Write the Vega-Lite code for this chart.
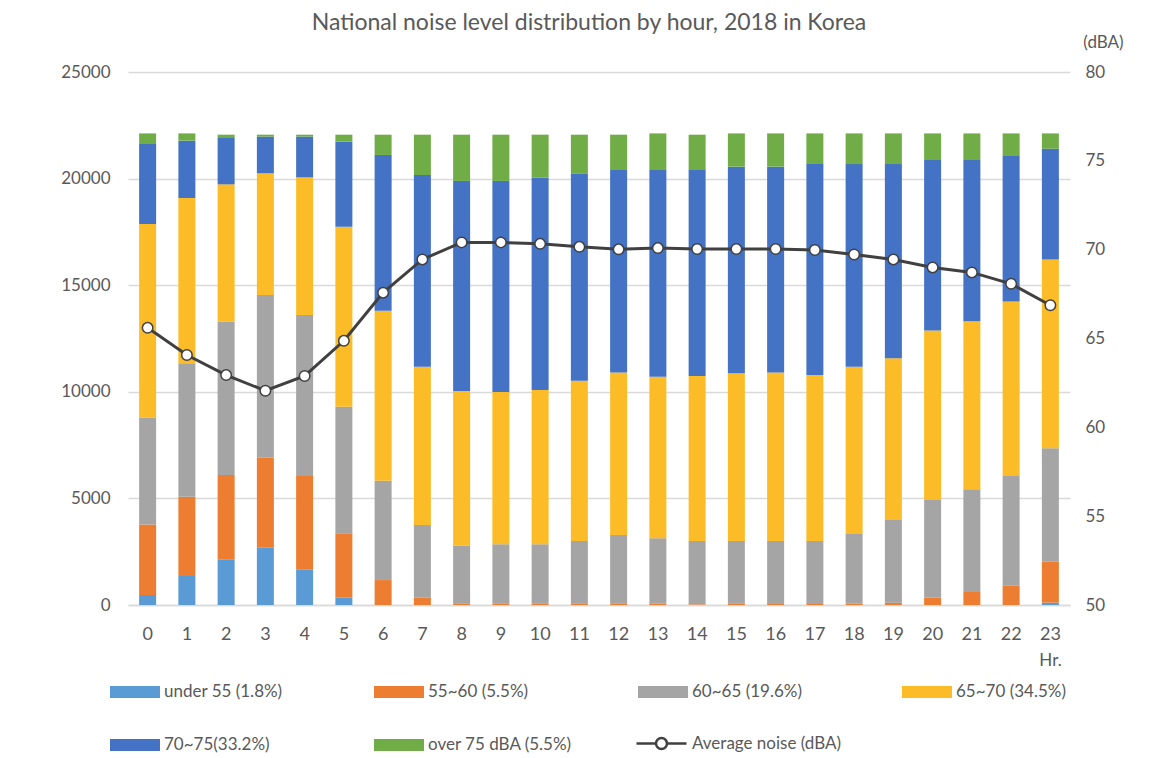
{
  "$schema": "https://vega.github.io/schema/vega-lite/v6.json",
  "width": 942,
  "height": 533,
  "autosize": {"type": "none"},
  "padding": {"left": 128, "top": 72, "right": 94, "bottom": 153},
  "background": "white",
  "config": {
    "font": "Lato",
    "view": {"stroke": null},
    "axis": {"labelColor": "#595959", "titleColor": "#595959", "labelFont": "Lato", "titleFont": "Lato"}
  },
  "title": {
    "text": "National noise level distribution by hour, 2018 in Korea",
    "fontSize": 23,
    "font": "Lato",
    "fontWeight": "normal",
    "color": "#595959",
    "anchor": "middle",
    "dx": -10,
    "offset": -2
  },
  "datasets": {
    "bars": [
      {"hour": 0, "k": 1, "level": "under 55 (1.8%)", "count": 470},
      {"hour": 0, "k": 2, "level": "55~60 (5.5%)", "count": 3310},
      {"hour": 0, "k": 3, "level": "60~65 (19.6%)", "count": 5010},
      {"hour": 0, "k": 4, "level": "65~70 (34.5%)", "count": 9080},
      {"hour": 0, "k": 5, "level": "70~75(33.2%)", "count": 3750},
      {"hour": 0, "k": 6, "level": "over 75 dBA (5.5%)", "count": 500},
      {"hour": 1, "k": 1, "level": "under 55 (1.8%)", "count": 1360},
      {"hour": 1, "k": 2, "level": "55~60 (5.5%)", "count": 3720},
      {"hour": 1, "k": 3, "level": "60~65 (19.6%)", "count": 6260},
      {"hour": 1, "k": 4, "level": "65~70 (34.5%)", "count": 7750},
      {"hour": 1, "k": 5, "level": "70~75(33.2%)", "count": 2690},
      {"hour": 1, "k": 6, "level": "over 75 dBA (5.5%)", "count": 340},
      {"hour": 2, "k": 1, "level": "under 55 (1.8%)", "count": 2140},
      {"hour": 2, "k": 2, "level": "55~60 (5.5%)", "count": 3960},
      {"hour": 2, "k": 3, "level": "60~65 (19.6%)", "count": 7190},
      {"hour": 2, "k": 4, "level": "65~70 (34.5%)", "count": 6440},
      {"hour": 2, "k": 5, "level": "70~75(33.2%)", "count": 2210},
      {"hour": 2, "k": 6, "level": "over 75 dBA (5.5%)", "count": 120},
      {"hour": 3, "k": 1, "level": "under 55 (1.8%)", "count": 2690},
      {"hour": 3, "k": 2, "level": "55~60 (5.5%)", "count": 4220},
      {"hour": 3, "k": 3, "level": "60~65 (19.6%)", "count": 7630},
      {"hour": 3, "k": 4, "level": "65~70 (34.5%)", "count": 5710},
      {"hour": 3, "k": 5, "level": "70~75(33.2%)", "count": 1720},
      {"hour": 3, "k": 6, "level": "over 75 dBA (5.5%)", "count": 90},
      {"hour": 4, "k": 1, "level": "under 55 (1.8%)", "count": 1670},
      {"hour": 4, "k": 2, "level": "55~60 (5.5%)", "count": 4380},
      {"hour": 4, "k": 3, "level": "60~65 (19.6%)", "count": 7550},
      {"hour": 4, "k": 4, "level": "65~70 (34.5%)", "count": 6460},
      {"hour": 4, "k": 5, "level": "70~75(33.2%)", "count": 1910},
      {"hour": 4, "k": 6, "level": "over 75 dBA (5.5%)", "count": 90},
      {"hour": 5, "k": 1, "level": "under 55 (1.8%)", "count": 340},
      {"hour": 5, "k": 2, "level": "55~60 (5.5%)", "count": 3020},
      {"hour": 5, "k": 3, "level": "60~65 (19.6%)", "count": 5940},
      {"hour": 5, "k": 4, "level": "65~70 (34.5%)", "count": 8440},
      {"hour": 5, "k": 5, "level": "70~75(33.2%)", "count": 3990},
      {"hour": 5, "k": 6, "level": "over 75 dBA (5.5%)", "count": 330},
      {"hour": 6, "k": 1, "level": "under 55 (1.8%)", "count": 0},
      {"hour": 6, "k": 2, "level": "55~60 (5.5%)", "count": 1170},
      {"hour": 6, "k": 3, "level": "60~65 (19.6%)", "count": 4660},
      {"hour": 6, "k": 4, "level": "65~70 (34.5%)", "count": 7970},
      {"hour": 6, "k": 5, "level": "70~75(33.2%)", "count": 7310},
      {"hour": 6, "k": 6, "level": "over 75 dBA (5.5%)", "count": 950},
      {"hour": 7, "k": 1, "level": "under 55 (1.8%)", "count": 0},
      {"hour": 7, "k": 2, "level": "55~60 (5.5%)", "count": 340},
      {"hour": 7, "k": 3, "level": "60~65 (19.6%)", "count": 3410},
      {"hour": 7, "k": 4, "level": "65~70 (34.5%)", "count": 7430},
      {"hour": 7, "k": 5, "level": "70~75(33.2%)", "count": 8990},
      {"hour": 7, "k": 6, "level": "over 75 dBA (5.5%)", "count": 1890},
      {"hour": 8, "k": 1, "level": "under 55 (1.8%)", "count": 0},
      {"hour": 8, "k": 2, "level": "55~60 (5.5%)", "count": 80},
      {"hour": 8, "k": 3, "level": "60~65 (19.6%)", "count": 2700},
      {"hour": 8, "k": 4, "level": "65~70 (34.5%)", "count": 7260},
      {"hour": 8, "k": 5, "level": "70~75(33.2%)", "count": 9850},
      {"hour": 8, "k": 6, "level": "over 75 dBA (5.5%)", "count": 2170},
      {"hour": 9, "k": 1, "level": "under 55 (1.8%)", "count": 0},
      {"hour": 9, "k": 2, "level": "55~60 (5.5%)", "count": 80},
      {"hour": 9, "k": 3, "level": "60~65 (19.6%)", "count": 2770},
      {"hour": 9, "k": 4, "level": "65~70 (34.5%)", "count": 7140},
      {"hour": 9, "k": 5, "level": "70~75(33.2%)", "count": 9900},
      {"hour": 9, "k": 6, "level": "over 75 dBA (5.5%)", "count": 2170},
      {"hour": 10, "k": 1, "level": "under 55 (1.8%)", "count": 0},
      {"hour": 10, "k": 2, "level": "55~60 (5.5%)", "count": 80},
      {"hour": 10, "k": 3, "level": "60~65 (19.6%)", "count": 2770},
      {"hour": 10, "k": 4, "level": "65~70 (34.5%)", "count": 7230},
      {"hour": 10, "k": 5, "level": "70~75(33.2%)", "count": 9960},
      {"hour": 10, "k": 6, "level": "over 75 dBA (5.5%)", "count": 2020},
      {"hour": 11, "k": 1, "level": "under 55 (1.8%)", "count": 0},
      {"hour": 11, "k": 2, "level": "55~60 (5.5%)", "count": 80},
      {"hour": 11, "k": 3, "level": "60~65 (19.6%)", "count": 2920},
      {"hour": 11, "k": 4, "level": "65~70 (34.5%)", "count": 7520},
      {"hour": 11, "k": 5, "level": "70~75(33.2%)", "count": 9700},
      {"hour": 11, "k": 6, "level": "over 75 dBA (5.5%)", "count": 1840},
      {"hour": 12, "k": 1, "level": "under 55 (1.8%)", "count": 0},
      {"hour": 12, "k": 2, "level": "55~60 (5.5%)", "count": 80},
      {"hour": 12, "k": 3, "level": "60~65 (19.6%)", "count": 3200},
      {"hour": 12, "k": 4, "level": "65~70 (34.5%)", "count": 7630},
      {"hour": 12, "k": 5, "level": "70~75(33.2%)", "count": 9530},
      {"hour": 12, "k": 6, "level": "over 75 dBA (5.5%)", "count": 1620},
      {"hour": 13, "k": 1, "level": "under 55 (1.8%)", "count": 0},
      {"hour": 13, "k": 2, "level": "55~60 (5.5%)", "count": 60},
      {"hour": 13, "k": 3, "level": "60~65 (19.6%)", "count": 3070},
      {"hour": 13, "k": 4, "level": "65~70 (34.5%)", "count": 7580},
      {"hour": 13, "k": 5, "level": "70~75(33.2%)", "count": 9690},
      {"hour": 13, "k": 6, "level": "over 75 dBA (5.5%)", "count": 1720},
      {"hour": 14, "k": 1, "level": "under 55 (1.8%)", "count": 0},
      {"hour": 14, "k": 2, "level": "55~60 (5.5%)", "count": 30},
      {"hour": 14, "k": 3, "level": "60~65 (19.6%)", "count": 2970},
      {"hour": 14, "k": 4, "level": "65~70 (34.5%)", "count": 7740},
      {"hour": 14, "k": 5, "level": "70~75(33.2%)", "count": 9700},
      {"hour": 14, "k": 6, "level": "over 75 dBA (5.5%)", "count": 1620},
      {"hour": 15, "k": 1, "level": "under 55 (1.8%)", "count": 0},
      {"hour": 15, "k": 2, "level": "55~60 (5.5%)", "count": 80},
      {"hour": 15, "k": 3, "level": "60~65 (19.6%)", "count": 2920},
      {"hour": 15, "k": 4, "level": "65~70 (34.5%)", "count": 7870},
      {"hour": 15, "k": 5, "level": "70~75(33.2%)", "count": 9690},
      {"hour": 15, "k": 6, "level": "over 75 dBA (5.5%)", "count": 1560},
      {"hour": 16, "k": 1, "level": "under 55 (1.8%)", "count": 0},
      {"hour": 16, "k": 2, "level": "55~60 (5.5%)", "count": 50},
      {"hour": 16, "k": 3, "level": "60~65 (19.6%)", "count": 2950},
      {"hour": 16, "k": 4, "level": "65~70 (34.5%)", "count": 7910},
      {"hour": 16, "k": 5, "level": "70~75(33.2%)", "count": 9650},
      {"hour": 16, "k": 6, "level": "over 75 dBA (5.5%)", "count": 1560},
      {"hour": 17, "k": 1, "level": "under 55 (1.8%)", "count": 0},
      {"hour": 17, "k": 2, "level": "55~60 (5.5%)", "count": 50},
      {"hour": 17, "k": 3, "level": "60~65 (19.6%)", "count": 2950},
      {"hour": 17, "k": 4, "level": "65~70 (34.5%)", "count": 7790},
      {"hour": 17, "k": 5, "level": "70~75(33.2%)", "count": 9930},
      {"hour": 17, "k": 6, "level": "over 75 dBA (5.5%)", "count": 1400},
      {"hour": 18, "k": 1, "level": "under 55 (1.8%)", "count": 0},
      {"hour": 18, "k": 2, "level": "55~60 (5.5%)", "count": 60},
      {"hour": 18, "k": 3, "level": "60~65 (19.6%)", "count": 3270},
      {"hour": 18, "k": 4, "level": "65~70 (34.5%)", "count": 7850},
      {"hour": 18, "k": 5, "level": "70~75(33.2%)", "count": 9500},
      {"hour": 18, "k": 6, "level": "over 75 dBA (5.5%)", "count": 1440},
      {"hour": 19, "k": 1, "level": "under 55 (1.8%)", "count": 0},
      {"hour": 19, "k": 2, "level": "55~60 (5.5%)", "count": 110},
      {"hour": 19, "k": 3, "level": "60~65 (19.6%)", "count": 3880},
      {"hour": 19, "k": 4, "level": "65~70 (34.5%)", "count": 7580},
      {"hour": 19, "k": 5, "level": "70~75(33.2%)", "count": 9110},
      {"hour": 19, "k": 6, "level": "over 75 dBA (5.5%)", "count": 1440},
      {"hour": 20, "k": 1, "level": "under 55 (1.8%)", "count": 0},
      {"hour": 20, "k": 2, "level": "55~60 (5.5%)", "count": 340},
      {"hour": 20, "k": 3, "level": "60~65 (19.6%)", "count": 4580},
      {"hour": 20, "k": 4, "level": "65~70 (34.5%)", "count": 7950},
      {"hour": 20, "k": 5, "level": "70~75(33.2%)", "count": 8000},
      {"hour": 20, "k": 6, "level": "over 75 dBA (5.5%)", "count": 1250},
      {"hour": 21, "k": 1, "level": "under 55 (1.8%)", "count": 0},
      {"hour": 21, "k": 2, "level": "55~60 (5.5%)", "count": 610},
      {"hour": 21, "k": 3, "level": "60~65 (19.6%)", "count": 4820},
      {"hour": 21, "k": 4, "level": "65~70 (34.5%)", "count": 7880},
      {"hour": 21, "k": 5, "level": "70~75(33.2%)", "count": 7560},
      {"hour": 21, "k": 6, "level": "over 75 dBA (5.5%)", "count": 1250},
      {"hour": 22, "k": 1, "level": "under 55 (1.8%)", "count": 0},
      {"hour": 22, "k": 2, "level": "55~60 (5.5%)", "count": 920},
      {"hour": 22, "k": 3, "level": "60~65 (19.6%)", "count": 5130},
      {"hour": 22, "k": 4, "level": "65~70 (34.5%)", "count": 8180},
      {"hour": 22, "k": 5, "level": "70~75(33.2%)", "count": 6860},
      {"hour": 22, "k": 6, "level": "over 75 dBA (5.5%)", "count": 1030},
      {"hour": 23, "k": 1, "level": "under 55 (1.8%)", "count": 110},
      {"hour": 23, "k": 2, "level": "55~60 (5.5%)", "count": 1920},
      {"hour": 23, "k": 3, "level": "60~65 (19.6%)", "count": 5320},
      {"hour": 23, "k": 4, "level": "65~70 (34.5%)", "count": 8860},
      {"hour": 23, "k": 5, "level": "70~75(33.2%)", "count": 5190},
      {"hour": 23, "k": 6, "level": "over 75 dBA (5.5%)", "count": 720}
    ],
    "avg": [
      {"hour": 0, "series": "Average noise (dBA)", "dba": 65.6},
      {"hour": 1, "series": "Average noise (dBA)", "dba": 64.07},
      {"hour": 2, "series": "Average noise (dBA)", "dba": 62.94},
      {"hour": 3, "series": "Average noise (dBA)", "dba": 62.06},
      {"hour": 4, "series": "Average noise (dBA)", "dba": 62.89},
      {"hour": 5, "series": "Average noise (dBA)", "dba": 64.87},
      {"hour": 6, "series": "Average noise (dBA)", "dba": 67.58},
      {"hour": 7, "series": "Average noise (dBA)", "dba": 69.45},
      {"hour": 8, "series": "Average noise (dBA)", "dba": 70.41},
      {"hour": 9, "series": "Average noise (dBA)", "dba": 70.41},
      {"hour": 10, "series": "Average noise (dBA)", "dba": 70.33},
      {"hour": 11, "series": "Average noise (dBA)", "dba": 70.16},
      {"hour": 12, "series": "Average noise (dBA)", "dba": 70.02},
      {"hour": 13, "series": "Average noise (dBA)", "dba": 70.09},
      {"hour": 14, "series": "Average noise (dBA)", "dba": 70.04},
      {"hour": 15, "series": "Average noise (dBA)", "dba": 70.04},
      {"hour": 16, "series": "Average noise (dBA)", "dba": 70.04},
      {"hour": 17, "series": "Average noise (dBA)", "dba": 69.98},
      {"hour": 18, "series": "Average noise (dBA)", "dba": 69.73},
      {"hour": 19, "series": "Average noise (dBA)", "dba": 69.45},
      {"hour": 20, "series": "Average noise (dBA)", "dba": 69.0},
      {"hour": 21, "series": "Average noise (dBA)", "dba": 68.72},
      {"hour": 22, "series": "Average noise (dBA)", "dba": 68.08},
      {"hour": 23, "series": "Average noise (dBA)", "dba": 66.87}
    ]
  },
  "encoding": {
    "x": {
      "field": "hour",
      "type": "ordinal",
      "scale": {"paddingInner": 0, "paddingOuter": 0},
      "axis": {
        "title": "Hr.",
        "titleX": 922,
        "titleY": 55,
        "titleAlign": "center",
        "titleBaseline": "middle",
        "titleFontSize": 17,
        "titleFontWeight": "normal",
        "labelAngle": 0,
        "labelFontSize": 18,
        "labelPadding": 20,
        "ticks": false,
        "domainColor": "#d9d9d9",
        "domainWidth": 1.5
      }
    }
  },
  "layer": [
    {
      "data": {"name": "bars"},
      "mark": {"type": "bar", "width": 17},
      "encoding": {
        "y": {
          "field": "count",
          "type": "quantitative",
          "stack": "zero",
          "scale": {"domain": [0, 25000], "nice": false},
          "axis": {
            "title": null,
            "values": [0, 5000, 10000, 15000, 20000, 25000],
            "format": "d",
            "labelFontSize": 17,
            "labelPadding": 18,
            "ticks": false,
            "domain": false,
            "gridColor": "#d9d9d9",
            "gridWidth": 1.5
          }
        },
        "order": {"field": "k", "type": "quantitative", "sort": "ascending"},
        "color": {
          "field": "level",
          "type": "nominal",
          "scale": {
            "domain": ["under 55 (1.8%)", "55~60 (5.5%)", "60~65 (19.6%)", "65~70 (34.5%)", "70~75(33.2%)", "over 75 dBA (5.5%)"],
            "range": ["#5b9bd5", "#ed7d31", "#a5a5a5", "#fbbc27", "#4472c4", "#70ad47"]
          },
          "legend": {
            "title": null,
            "orient": "none",
            "legendX": -18,
            "legendY": 595,
            "direction": "horizontal",
            "columns": 4,
            "gridAlign": "all",
            "columnPadding": 65,
            "rowPadding": 20,
            "padding": 0,
            "symbolType": "M-1,-0.24H1V0.24H-1Z",
            "symbolSize": 2500,
            "symbolStrokeWidth": 0,
            "labelFontSize": 17,
            "labelColor": "#595959",
            "labelFont": "Lato",
            "labelOffset": 4,
            "labelLimit": 300
          }
        }
      }
    },
    {
      "layer": [
        {
          "data": {"name": "avg"},
          "mark": {"type": "line", "strokeWidth": 3},
          "encoding": {
            "y": {
              "field": "dba",
              "type": "quantitative",
              "scale": {"domain": [50, 80], "nice": false},
              "axis": {
                "orient": "right",
                "title": "(dBA)",
                "titleAngle": 0,
                "titleX": 33,
                "titleY": -30,
                "titleAlign": "center",
                "titleBaseline": "middle",
                "titleFontSize": 17,
                "titleFontWeight": "normal",
                "values": [50, 55, 60, 65, 70, 75, 80],
                "labelFontSize": 17,
                "labelPadding": 15,
                "ticks": false,
                "domain": false,
                "grid": false
              }
            },
            "color": {
              "field": "series",
              "type": "nominal",
              "scale": {"range": ["#404040"]},
              "legend": {
                "title": null,
                "orient": "none",
                "legendX": 507,
                "legendY": 645,
                "padding": 0,
                "symbolType": "M-1,0H-0.22M0.22,0H1M-0.22,0A0.22,0.22 0 1,0 0.22,0A0.22,0.22 0 1,0 -0.22,0",
                "symbolSize": 2500,
                "symbolStrokeColor": "#404040",
                "symbolFillColor": "white",
                "symbolStrokeWidth": 2.5,
                "labelFontSize": 17,
                "labelColor": "#595959",
                "labelFont": "Lato",
                "labelOffset": 4
              }
            }
          }
        },
        {
          "data": {"name": "avg"},
          "mark": {"type": "point", "filled": true, "fill": "white", "stroke": "#404040", "strokeWidth": 1.5, "size": 110, "opacity": 1},
          "encoding": {
            "y": {"field": "dba", "type": "quantitative"}
          }
        }
      ]
    }
  ],
  "resolve": {"scale": {"y": "independent", "color": "independent"}}
}
